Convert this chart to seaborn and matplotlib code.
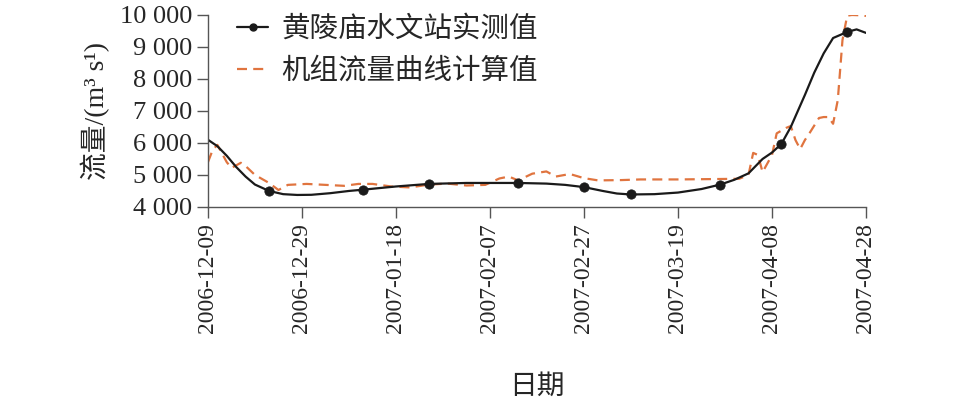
import numpy as np
import pandas as pd
import matplotlib
matplotlib.use("Agg")
import matplotlib.pyplot as plt
import seaborn as sns
from matplotlib.lines import Line2D
from matplotlib.ticker import FuncFormatter
import matplotlib.dates as mdates

# 数据（从图中读取，横轴为自 2006-12-09 起的天数）
start_date = "2006-12-09"

# 黄陵庙水文站实测值（平滑曲线上的读数）
obs_curve_days = [0, 2, 4, 6, 8, 10, 13, 16, 19, 22, 26, 30, 33, 40, 47, 55, 66, 72, 76, 80,
                  84, 87, 90, 95, 100, 105, 109, 112, 115, 118, 120, 122, 124, 127, 129, 131,
                  133, 136, 138, 140]
obs_curve_vals = [6100, 5900, 5600, 5250, 4950, 4700, 4500, 4400, 4375, 4380, 4430, 4500, 4540,
                  4640, 4720, 4750, 4750, 4730, 4690, 4620, 4500, 4420, 4390, 4400, 4450, 4560,
                  4700, 4850, 5050, 5500, 5700, 5970, 6500, 7500, 8200, 8800, 9280, 9470, 9550,
                  9440]

# 实测点
obs_days = [13, 33, 47, 66, 80, 90, 109, 122, 136]
obs_vals = [4500, 4530, 4720, 4750, 4620, 4390, 4700, 5970, 9470]

# 机组流量曲线计算值
calc_days = [0, 1, 2, 4, 5, 7, 8, 10, 13, 15, 17, 21, 25, 29, 32, 35, 39, 43, 47, 51, 55, 59,
             62, 64, 66, 69, 72, 74, 77, 80, 83, 88, 92, 100, 113, 115, 116, 117, 118, 120, 121,
             123, 124, 125, 126, 127, 128, 130, 131, 132, 133, 134, 135, 136, 137, 139, 140]
calc_vals = [5400, 5780, 5940, 5400, 5220, 5380, 5280, 5000, 4750, 4530, 4690, 4720, 4690, 4660,
             4720, 4720, 4640, 4610, 4700, 4730, 4670, 4690, 4890, 4950, 4830, 5040, 5110, 4950,
             5030, 4900, 4830, 4840, 4860, 4860, 4880, 5000, 5690, 5625, 5090, 5620, 6300, 6470,
             6530, 6090, 5810, 6090, 6310, 6780, 6810, 6810, 6600, 7340, 9220, 9980, 10000,
             9990, 9970]

legend_labels = ["黄陵庙水文站实测值", "机组流量曲线计算值"]
x_label = "日期"
y_label = "流量/(m³ s¹)"


def to_dates(days):
    return pd.to_datetime(start_date) + pd.to_timedelta(days, unit="D")


curve_df = pd.DataFrame({"date": to_dates(obs_curve_days), "flow": obs_curve_vals})
obs_df = pd.DataFrame({"date": to_dates(obs_days), "flow": obs_vals})
calc_df = pd.DataFrame({"date": to_dates(calc_days), "flow": calc_vals})

sns.set_style("ticks")
plt.rcParams["font.family"] = ["Liberation Serif", "Noto Sans CJK SC"]
plt.rcParams["axes.unicode_minus"] = False

black = "#1a1a1a"
orange = "#e0743f"
dash = (0, (4.5, 2.8))

fig = plt.figure(figsize=(9.57, 4.05), dpi=100)
ax = fig.add_axes([0.2173, 0.489, 0.6876, 0.474])

sns.lineplot(data=calc_df, x="date", y="flow", ax=ax, color=orange, linewidth=1.6,
             linestyle=dash, legend=False)
sns.lineplot(data=curve_df, x="date", y="flow", ax=ax, color=black, linewidth=1.6, legend=False)
sns.scatterplot(data=obs_df, x="date", y="flow", ax=ax, color=black, s=45, edgecolor=black,
                zorder=5, legend=False)

ax.set_xlim(pd.to_datetime(start_date), pd.to_datetime("2007-04-28"))
ax.set_ylim(4000, 10000)
ax.set_xticks(pd.date_range(start_date, "2007-04-28", freq="20D"))
ax.xaxis.set_major_formatter(mdates.DateFormatter("%Y-%m-%d"))
ax.set_yticks(range(4000, 10001, 1000))
ax.yaxis.set_major_formatter(FuncFormatter(lambda v, p: f"{int(v):,}".replace(",", " ")))
ax.tick_params(axis="both", length=8, width=1, color="#555555", direction="out")
ax.tick_params(axis="y", labelsize=19)
ax.tick_params(axis="x", labelsize=17)
plt.setp(ax.get_xticklabels(), rotation=90)

for s in ["top", "right"]:
    ax.spines[s].set_visible(False)
for s in ["left", "bottom"]:
    ax.spines[s].set_color("#555555")
    ax.spines[s].set_linewidth(1)

ax.set_xlabel(x_label, fontsize=20, labelpad=30)
ax.set_ylabel(y_label, fontsize=20, labelpad=7)

handles = [Line2D([], [], color=black, lw=1.6, marker="o", markersize=5),
           Line2D([], [], color=orange, lw=1.6, linestyle=dash)]
ax.legend(handles, legend_labels, loc="upper left", bbox_to_anchor=(0.005, 1.14), frameon=False,
          handlelength=1.1, handletextpad=0.45, labelspacing=0.42,
          prop={"family": ["Noto Sans CJK SC"], "size": 20.5})

fig.savefig("out.png", dpi=100)
